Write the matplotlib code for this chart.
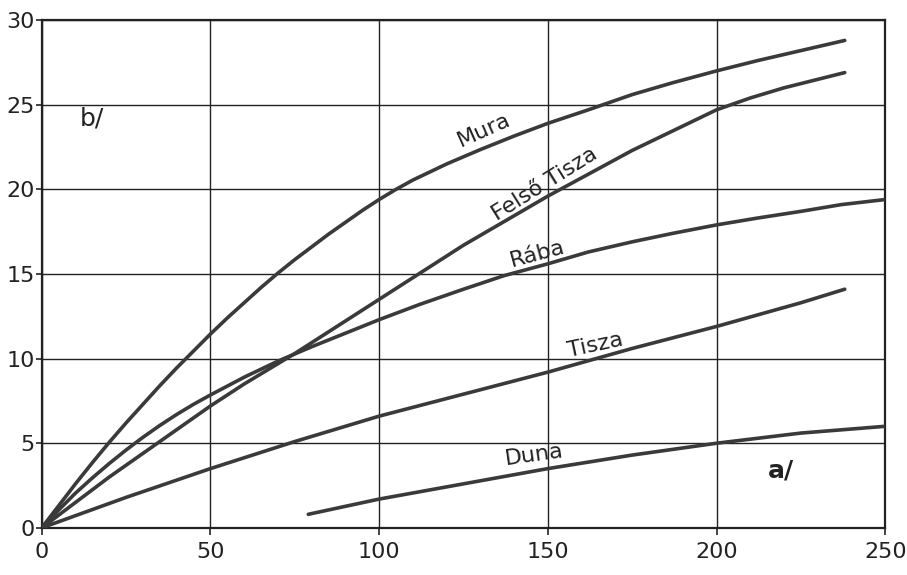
import numpy as np
import matplotlib.pyplot as plt

# values
mura_x = [0, 5, 10, 15, 20, 25, 30, 35, 40, 45, 50, 55, 60, 65, 70, 75, 80, 85, 90, 95,
          100, 105, 110, 120, 130, 140, 150, 162, 175, 187, 200, 212, 225, 238]
mura_y = [0, 1.3, 2.6, 3.85, 5.05, 6.2, 7.3, 8.4, 9.45, 10.45, 11.45, 12.4, 13.3, 14.2,
          15.05, 15.85, 16.6, 17.35, 18.05, 18.75, 19.4, 20.0, 20.55, 21.5, 22.35, 23.15,
          23.9, 24.7, 25.6, 26.3, 27.0, 27.6, 28.2, 28.8]

felso_x = [0, 10, 20, 30, 40, 50, 60, 75, 100, 125, 150, 175, 200, 210, 220, 230, 238]
felso_y = [0, 1.5, 3.0, 4.4, 5.8, 7.2, 8.5, 10.3, 13.5, 16.7, 19.6, 22.3, 24.7, 25.4,
           26.0, 26.5, 26.9]

raba_x = [0, 5, 10, 15, 20, 25, 30, 35, 40, 45, 50, 60, 70, 80, 90, 100, 112, 125, 137,
          150, 162, 175, 187, 200, 212, 225, 237, 250]
raba_y = [0, 1.05, 2.05, 2.95, 3.8, 4.6, 5.35, 6.05, 6.7, 7.3, 7.85, 8.9, 9.85, 10.7,
          11.5, 12.3, 13.2, 14.1, 14.9, 15.6, 16.3, 16.9, 17.4, 17.9, 18.3, 18.7, 19.1, 19.4]

tisza_x = [0, 25, 50, 75, 100, 125, 150, 175, 200, 225, 238]
tisza_y = [0, 1.8, 3.5, 5.1, 6.6, 7.9, 9.2, 10.6, 11.9, 13.3, 14.1]

duna_x = [79, 100, 125, 150, 175, 200, 225, 250]
duna_y = [0.8, 1.7, 2.6, 3.5, 4.3, 5.0, 5.6, 6.0]

labels = ["Mura", "Felső Tisza", "Rába", "Tisza", "Duna"]
label_pos = [(131, 23.5, 24), (149, 20.3, 32), (147, 16.2, 15), (164, 10.8, 12), (146, 4.3, 8)]

ink = "#3a3a3a"

fig = plt.figure(figsize=(9.07, 5.75), dpi=100)
ax = fig.add_axes([0.046, 0.082, 0.930, 0.883])

for xs, ys in [(mura_x, mura_y), (felso_x, felso_y), (raba_x, raba_y),
               (tisza_x, tisza_y), (duna_x, duna_y)]:
    ax.plot(xs, ys, color=ink, lw=2.6, solid_capstyle="round",
            solid_joinstyle="round", zorder=3)

for name, (lx, ly, rot) in zip(labels, label_pos):
    ax.text(lx, ly, name, rotation=rot, fontsize=16, color="#222222",
            ha="center", va="center", rotation_mode="anchor")

ax.text(15, 24.2, "b/", fontsize=18, color="#222222", ha="center", va="center")
ax.text(219, 3.4, "a/", fontsize=18, color="#222222", ha="center", va="center",
        fontweight="bold")

ax.set_xlim(0, 250)
ax.set_ylim(0, 30)
ax.set_xticks(np.arange(0, 251, 50))
ax.set_yticks(np.arange(0, 31, 5))
ax.grid(True, color="#222222", lw=1.0)
for s in ax.spines.values():
    s.set_color("#222222")
    s.set_linewidth(1.6)
ax.tick_params(direction="out", width=1.2, colors="#222222", labelsize=16)
ax.tick_params(axis="x", length=5, pad=5)
ax.tick_params(axis="y", length=4, pad=1)

fig.savefig("out.png", dpi=100)
